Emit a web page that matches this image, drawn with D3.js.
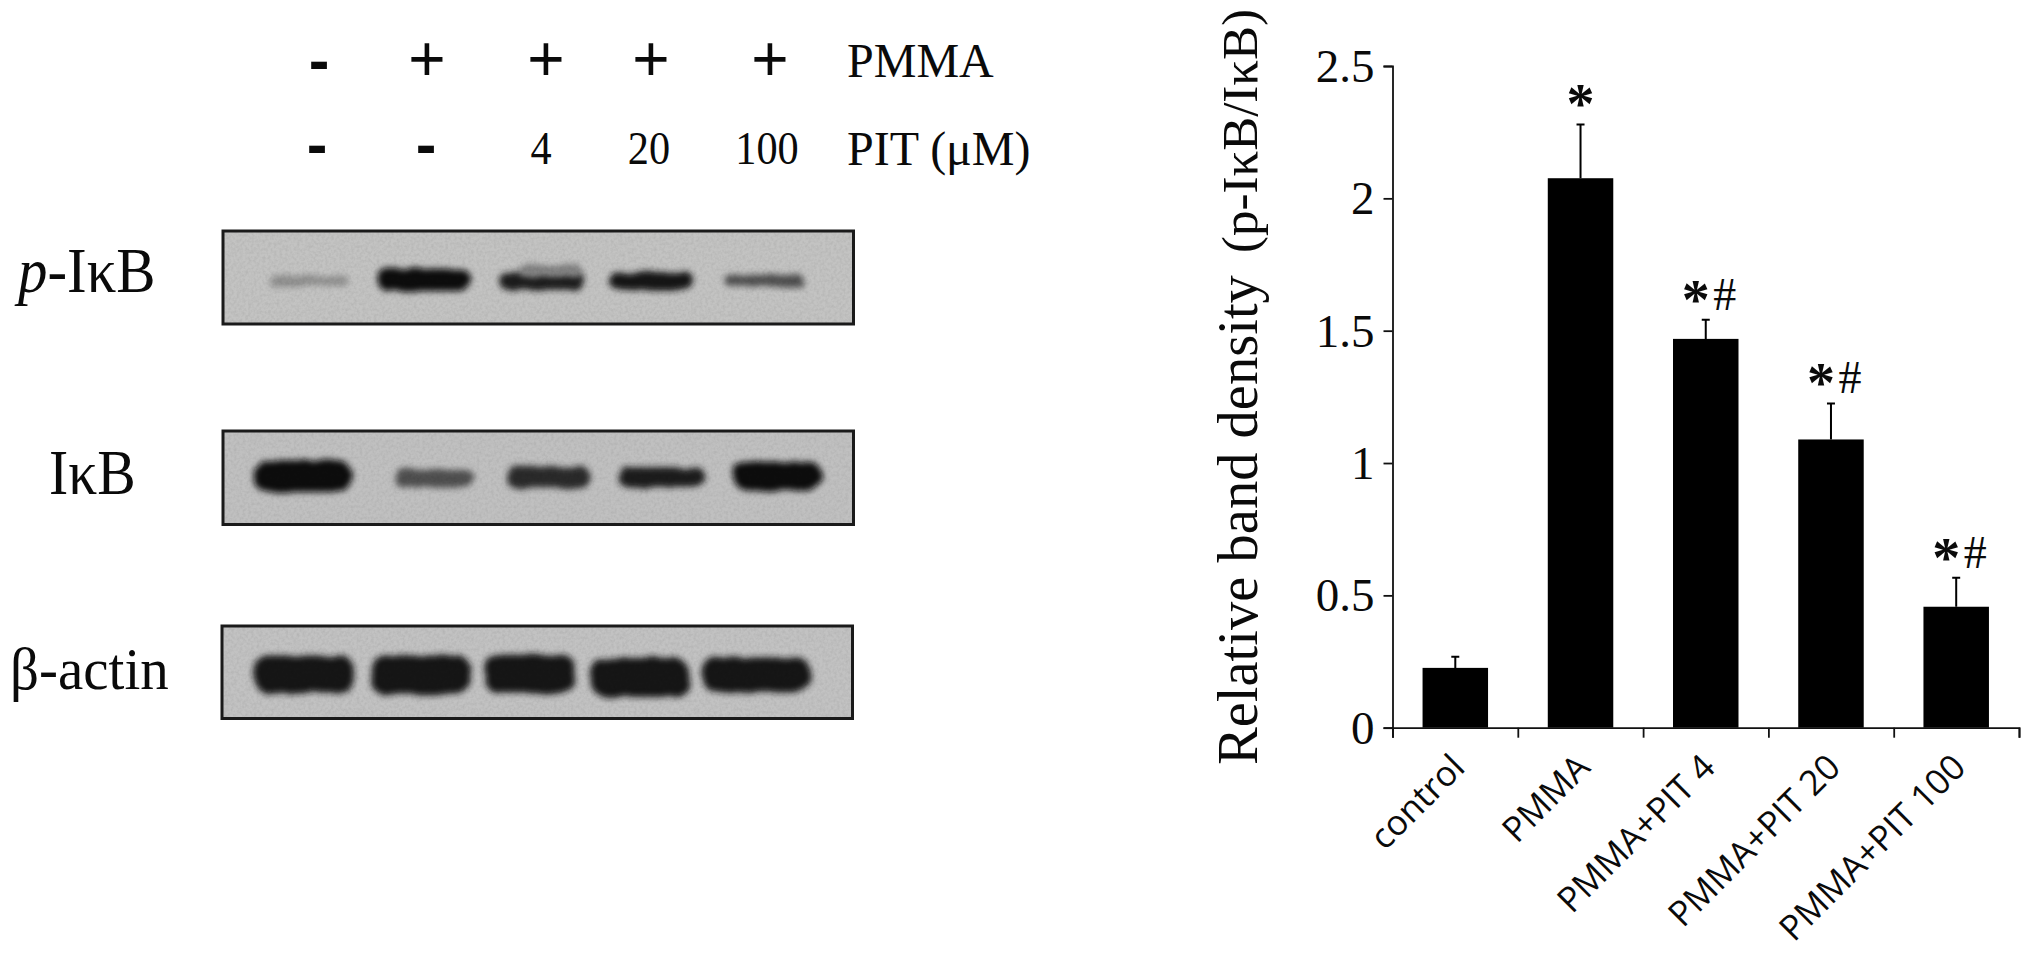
<!DOCTYPE html>
<html><head><meta charset="utf-8">
<script src="https://cdnjs.cloudflare.com/ajax/libs/d3/7.8.5/d3.min.js"></script>
<style>html,body{margin:0;padding:0;background:#fff}svg{display:block}text{fill:#0a0a0a}</style>
</head><body><svg id="c" width="2031" height="957"></svg>
<script>
// Bar chart data
const groups = ["control","PMMA","PMMA+PIT 4","PMMA+PIT 20","PMMA+PIT 100"];
const density = [0.226,2.076,1.469,1.089,0.457];
const errorTop = [0.268,2.279,1.541,1.225,0.567];
const marksStar = [false,true,true,true,true];
const marksHash = [false,false,true,true,true];
const yTicks = [0,0.5,1,1.5,2,2.5];
// Treatment table
const pmmaRow = ["-","+","+","+","+"];
const pitRow = ["-","-","4","20","100"];
// Blots: band centre across and down the membrane (% of membrane), extent (%), darkness (0..1)
const pIkBCentre=[13.6,31.9,50.6,68,85.8], pIkBDown=[53.7,52.6,53.7,53.7,53], pIkBWide=[12.6,14.8,13.6,13.4,12.6], pIkBTall=[11,24,19,19,12], pIkBDark=[0.28,1,0.9,0.95,0.62];
const ikBCentre=[12.6,33.5,51.6,69.6,88], ikBDown=[48.3,50.7,49.7,49.7,48.3], ikBWide=[15.4,12.6,13.4,13.8,14], ikBTall=[34,20,23,22,31], ikBDark=[1,0.62,0.82,0.9,1];
const actinCentre=[13,31.5,48.9,66.3,84.8], actinDown=[52,53,52,55.7,53], actinWide=[15.8,15.8,14.3,15.3,17], actinTall=[40,42,42,42,38], actinDark=[0.93,0.93,0.93,0.95,0.93];
const smearCentre=[52], smearDown=[43], smearWide=[10], smearTall=[13], smearDark=[0.35];

const svg=d3.select("#c");
const serif="'Liberation Serif','Times New Roman',serif", sans="'Liberation Sans',Arial,sans-serif";
const defs=svg.append("defs");
const f=defs.append("filter").attr("id","band").attr("x","-30%").attr("y","-60%").attr("width","160%").attr("height","220%");
f.append("feTurbulence").attr("type","fractalNoise").attr("baseFrequency","0.05").attr("numOctaves",2).attr("seed",4).attr("result","n");
f.append("feDisplacementMap").attr("in","SourceGraphic").attr("in2","n").attr("scale",6).attr("result","d");
f.append("feGaussianBlur").attr("in","d").attr("stdDeviation","3 3.2");
const g=defs.append("filter").attr("id","grain").attr("x",0).attr("y",0).attr("width","100%").attr("height","100%");
g.append("feTurbulence").attr("type","fractalNoise").attr("baseFrequency","0.35").attr("numOctaves",2).attr("seed",9);
g.append("feColorMatrix").attr("values","0 0 0 0 0  0 0 0 0 0  0 0 0 0 0  0.6 0 0 0 -0.22");

// Blots
const blotDefs=[
 {name:"pIkB",x:[223,853.5],y:[231,324],bg:"#c3c3c2",bands:[[pIkBCentre,pIkBDown,pIkBWide,pIkBTall,pIkBDark],[smearCentre,smearDown,smearWide,smearTall,smearDark]]},
 {name:"IkB",x:[223,853.5],y:[431,524.5],bg:"#c0c0c0",bands:[[ikBCentre,ikBDown,ikBWide,ikBTall,ikBDark]]},
 {name:"actin",x:[222,852.5],y:[626,718.5],bg:"#c2c2c2",bands:[[actinCentre,actinDown,actinWide,actinTall,actinDark]]}
];
blotDefs.forEach(b=>{
  const X=d3.scaleLinear([0,100],b.x), Y=d3.scaleLinear([0,100],b.y);
  const W=d3.scaleLinear([0,100],[0,b.x[1]-b.x[0]]), H=d3.scaleLinear([0,100],[0,b.y[1]-b.y[0]]);
  const shade=d3.scaleLinear([0,1],[b.bg,"#0a0a0a"]);
  const cid="clip-"+b.name;
  defs.append("clipPath").attr("id",cid).append("rect").attr("x",b.x[0]).attr("y",b.y[0]).attr("width",W(100)).attr("height",H(100));
  const gg=svg.append("g").attr("clip-path",`url(#${cid})`);
  gg.append("rect").attr("x",b.x[0]).attr("y",b.y[0]).attr("width",W(100)).attr("height",H(100)).attr("fill",b.bg);
  b.bands.forEach(([c,d,w,t,k])=>{
    gg.selectAll(null).data(c).join("rect")
      .attr("x",(v,i)=>X(v)-W(w[i])/2).attr("y",(v,i)=>Y(d[i])-H(t[i])/2)
      .attr("width",(v,i)=>W(w[i])).attr("height",(v,i)=>H(t[i]))
      .attr("rx",(v,i)=>Math.min(14,H(t[i])/2)).attr("fill",(v,i)=>shade(k[i]))
      .attr("filter","url(#band)");
  });
  gg.append("rect").attr("x",b.x[0]).attr("y",b.y[0]).attr("width",W(100)).attr("height",H(100)).attr("fill","#000").attr("filter","url(#grain)").attr("opacity",0.22);
  svg.append("rect").attr("x",b.x[0]).attr("y",b.y[0]).attr("width",W(100)).attr("height",H(100)).attr("fill","none").attr("stroke","#1a1a1a").attr("stroke-width",3);
});

function label(x,y,size,txt,sx=1,anchor="start",font=serif,weight="normal"){
  return svg.append("text").attr("transform",`translate(${x},${y}) scale(${sx},1)`).attr("font-family",font).attr("font-size",size).attr("text-anchor",anchor).attr("font-weight",weight).text(txt);
}
// Blot labels
const pl=label(18,292,64,"",0.92);
pl.append("tspan").attr("font-style","italic").text("p");
pl.append("tspan").text("-IκB");
label(49,494,64,"IκB",0.9);
label(10,689,60,"β-actin",0.95);

// Treatment table
const headX=[319,427,546,651,770], subX=[317,426,541,649,767];
svg.selectAll(null).data(pmmaRow).join("text").attr("x",(d,i)=>headX[i]).attr("y",81)
  .attr("font-family",sans).attr("font-weight",d=>d==="-"?"bold":"normal").attr("font-size",d=>d==="+"?64:62).attr("text-anchor","middle").text(d=>d);
svg.selectAll(null).data(pitRow).join("text").attr("transform",(d,i)=>`translate(${subX[i]},${i<2?165:164}) scale(${i<2?1:0.92},1)`)
  .attr("font-family",(d,i)=>i<2?sans:serif).attr("font-weight",(d,i)=>i<2?"bold":"normal").attr("font-size",(d,i)=>i<2?62:46).attr("text-anchor","middle").text(d=>d);
label(847,77,48,"PMMA");
label(847,165,48,"PIT (μM)");

// Bar chart
const x=d3.scaleBand().domain(groups).range([1392.5,2019]).paddingInner(0.477).paddingOuter(0.24);
const y=d3.scaleLinear().domain([0,2.5]).range([727.7,66]);
const barG=svg.append("g");
barG.selectAll("rect").data(groups).join("rect").attr("x",d=>x(d)).attr("width",x.bandwidth())
  .attr("y",(d,i)=>y(density[i])).attr("height",(d,i)=>y(0)-y(density[i])).attr("fill","#000");
const cx=d=>x(d)+x.bandwidth()/2;
barG.selectAll("path.err").data(groups).join("path").attr("class","err").attr("fill","none").attr("stroke","#000").attr("stroke-width",2)
  .attr("d",(d,i)=>`M${cx(d)},${y(density[i])}V${y(errorTop[i])}M${cx(d)-4},${y(errorTop[i])}H${cx(d)+4}`);

const yAxis=d3.axisLeft(y).tickValues(yTicks).tickSize(9).tickPadding(9).tickFormat(d=>String(d));
const ya=svg.append("g").attr("transform","translate(1392.5,0)").call(yAxis);
ya.selectAll("text").attr("font-family",serif).attr("font-size",47).attr("dy","0.33em");
const xTickScale=d3.scaleLinear().domain([0,5]).range([1392.5,2019]);
const xa=svg.append("g").attr("transform","translate(0,727.7)").call(d3.axisBottom(xTickScale).tickValues(d3.range(6)).tickSize(10).tickFormat(""));
[ya,xa].forEach(a=>{a.selectAll("path,line").attr("stroke","#111").attr("stroke-width",1.8)});

// category labels, rotated
svg.selectAll(null).data(groups).join("text")
  .attr("transform",(d,i)=>`translate(${cx(d)+4},${762}) rotate(-45)`)
  .attr("font-family","'Open Sans',sans-serif").attr("font-size",35).attr("text-anchor","end").attr("dy","0.3em").text(d=>d);

// significance marks
const ann=svg.append("g");
ann.selectAll(null).data(groups.filter((d,i)=>marksStar[i])).join("text")
  .attr("x",d=>{const i=groups.indexOf(d);return cx(d)+(marksHash[i]?-10:0)})
  .attr("y",d=>y(errorTop[groups.indexOf(d)])-1)
  .attr("font-family",serif).attr("font-weight","bold").attr("font-size",56).attr("text-anchor","middle").text("*");
ann.selectAll(null).data(groups.filter((d,i)=>marksHash[i])).join("text")
  .attr("x",d=>cx(d)+19).attr("y",d=>y(errorTop[groups.indexOf(d)])-10)
  .attr("font-family",serif).attr("font-size",46).attr("text-anchor","middle").text("#");

// y title
label(0,0,58,"Relative band density").attr("transform","translate(1256.5,765) rotate(-90) scale(0.975,1)");
label(0,0,51,"(p-IκB/IκB)").attr("transform","translate(1256.5,253) rotate(-90)");
</script></body></html>
